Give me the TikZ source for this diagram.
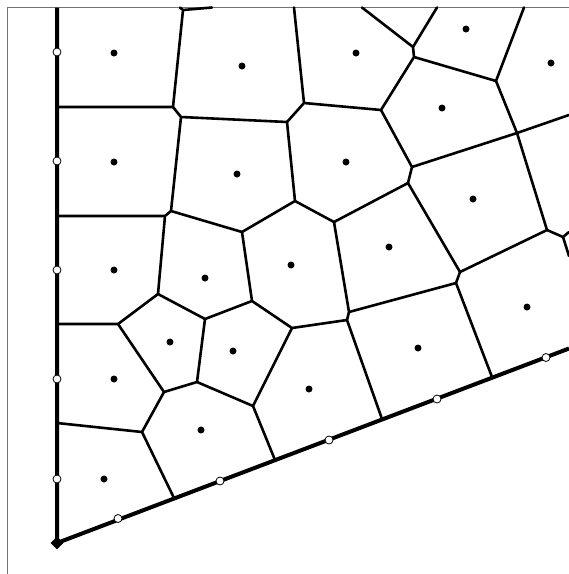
\documentclass[tikz,border=0pt]{standalone}
\usetikzlibrary{shapes.geometric}
\tikzset{
  edge/.style={line width=2.6pt, line cap=round, line join=round},
  bound/.style={line width=4pt, line cap=butt, line join=round},
  frameline/.style={line width=1pt, draw=black!55},
  seed/.style={circle, fill=black, inner sep=0pt, minimum size=7pt},
  gen/.style={circle, draw=black, fill=white, line width=0.8pt, inner sep=0pt, minimum size=8pt},
  corner/.style={diamond, fill=black, inner sep=0pt, minimum size=13pt}
}
\begin{document}
\begin{tikzpicture}[x=1pt,y=-1pt]
\useasboundingbox (0,0) rectangle (569,574);
% frame
\coordinate (F0) at (7.5,574);
\coordinate (F1) at (7.5,7.5);
\coordinate (F2) at (569,7.5);
\draw[frameline] (F0) -- (F1) -- (F2);
% boundary points
\coordinate (O) at (57,543);
\coordinate (Ltop) at (57,7.5);
\coordinate (Rend) at (569,348.5);
\coordinate (L1) at (57,107);
\coordinate (L2) at (57,216);
\coordinate (L3) at (57,324);
\coordinate (L4) at (57,423);
\coordinate (B1) at (174,498);
\coordinate (B2) at (275,460);
\coordinate (B3) at (382,419);
\coordinate (B4) at (492,377);
\coordinate (T0) at (180,7.5);
\coordinate (T1) at (212,7.5);
\coordinate (T2) at (294,7.5);
\coordinate (T3) at (362,7.5);
\coordinate (T4) at (437,7.5);
\coordinate (T5) at (524,7.5);
\coordinate (R1) at (569,115);
\coordinate (R2) at (569,232);
\coordinate (R3) at (569,256);
% Voronoi vertices
\coordinate (V1) at (183,10);
\coordinate (V2) at (173,107);
\coordinate (V3) at (181,117);
\coordinate (V4) at (287,122);
\coordinate (V5) at (304,103);
\coordinate (V6) at (381,110);
\coordinate (V7) at (413,47);
\coordinate (V8) at (414,57);
\coordinate (V9) at (496,81);
\coordinate (V10) at (517,133);
\coordinate (V11) at (412,167);
\coordinate (V12) at (408,183);
\coordinate (V13) at (171,211);
\coordinate (V14) at (165,216);
\coordinate (V15) at (242,232);
\coordinate (V16) at (295,201);
\coordinate (V17) at (334,222);
\coordinate (V18) at (460,272);
\coordinate (V19) at (456,283);
\coordinate (V20) at (547,230);
\coordinate (V21) at (563,237);
\coordinate (V22) at (158,294);
\coordinate (V23) at (118,324);
\coordinate (V24) at (205,319);
\coordinate (V25) at (252,301);
\coordinate (V26) at (292,328);
\coordinate (V27) at (349,312);
\coordinate (V28) at (347,320);
\coordinate (V29) at (164,392);
\coordinate (V30) at (197,382);
\coordinate (V31) at (253,406);
\coordinate (V32) at (142,432);
% Voronoi edges
\draw[edge] (T0) -- (V1) (T1) -- (V1) -- (V2) -- (L1);
\draw[edge] (V2) -- (V3) -- (V4) (V3) -- (V13);
\draw[edge] (T2) -- (V5) -- (V4) (V5) -- (V6);
\draw[edge] (T3) -- (V7) (T4) -- (V7) -- (V8) -- (V9) (V8) -- (V6);
\draw[edge] (T5) -- (V9) -- (V10) -- (R1) (V10) -- (V20);
\draw[edge] (V6) -- (V11) -- (V10) (V11) -- (V12) -- (V17) (V12) -- (V18);
\draw[edge] (V18) -- (V19) (V18) -- (V20) -- (V21) -- (R2) (V21) -- (R3);
\draw[edge] (V19) -- (V27) (V19) -- (B4);
\draw[edge] (V4) -- (V16) -- (V15) (V16) -- (V17) -- (V27) -- (V28) -- (V26) (V28) -- (B3);
\draw[edge] (V13) -- (V14) (V13) -- (V15) (L2) -- (V14) -- (V22);
\draw[edge] (V15) -- (V25) -- (V24) (V25) -- (V26);
\draw[edge] (V22) -- (V24) (V22) -- (V23) -- (L3) (V23) -- (V29);
\draw[edge] (V24) -- (V30) -- (V29) -- (V32) -- (L4) (V32) -- (B1);
\draw[edge] (V30) -- (V31) -- (V26) (V31) -- (B2);
% boundary
\draw[bound] (Ltop) -- (O) -- (Rend);
% seeds
\foreach \n/\p in {s1/{(114,53)}, s2/{(114,162)}, s3/{(114,270)}, s4/{(114,379)}, s5/{(104,479)},
  s6/{(242,66)}, s7/{(237,174)}, s8/{(205,278)}, s9/{(170,342)}, s10/{(233,351)}, s11/{(201,430)},
  s12/{(356,53)}, s13/{(346,162)}, s14/{(291,265)}, s15/{(309,389)}, s16/{(466,29)}, s17/{(442,108)},
  s18/{(389,247)}, s19/{(418,348)}, s20/{(551,63)}, s21/{(473,199)}, s22/{(527,307)}}
  \node[seed] (\n) at \p {};
% generator points on boundary
\foreach \n/\p in {g1/{(57,52)}, g2/{(57,161)}, g3/{(57,270)}, g4/{(57,379)}, g5/{(57,479)},
  g6/{(118,518.5)}, g7/{(220,481)}, g8/{(329,440)}, g9/{(437,399)}, g10/{(546,357.5)}}
  \node[gen] (\n) at \p {};
\node[corner] (c0) at (O) {};
\end{tikzpicture}
\end{document}
